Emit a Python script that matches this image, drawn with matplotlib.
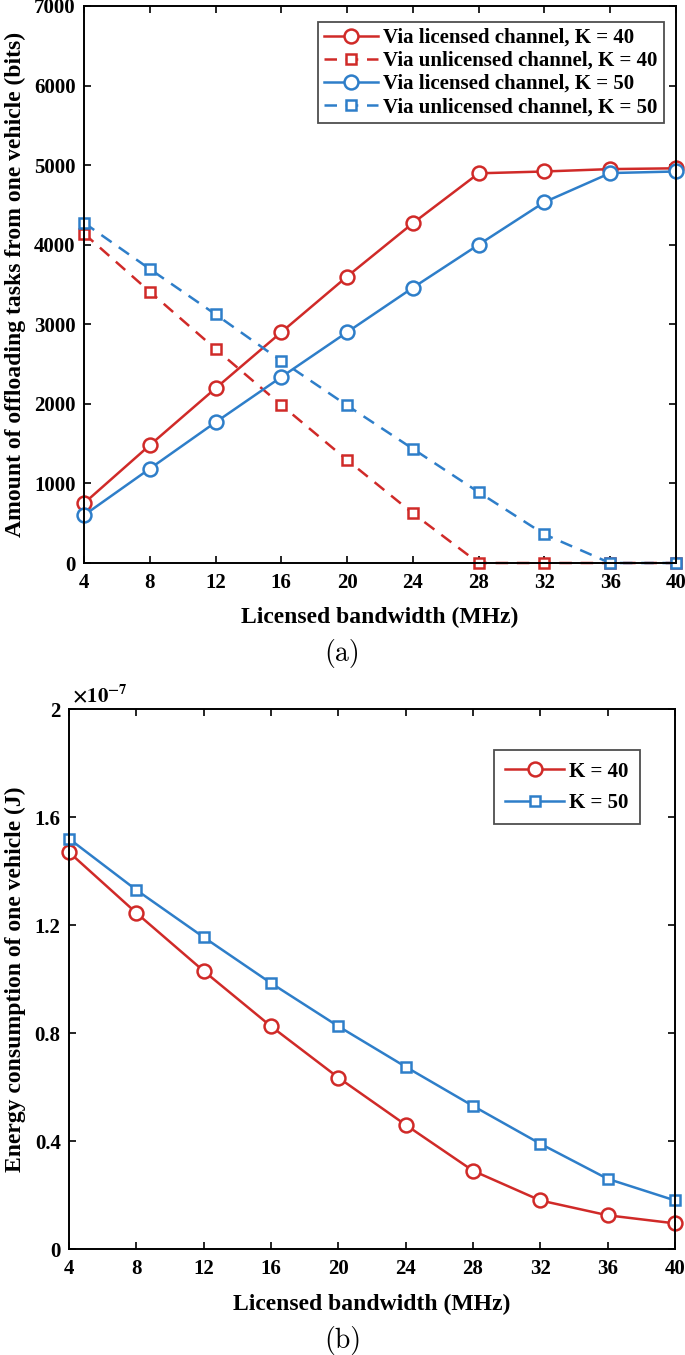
import numpy as np
import matplotlib.pyplot as plt
from matplotlib.ticker import FuncFormatter

plt.rcParams['font.family'] = ['Liberation Serif', 'DejaVu Serif']
plt.rcParams['font.weight'] = 'bold'
plt.rcParams['mathtext.fontset'] = 'stix'

bandwidth = [4, 8, 12, 16, 20, 24, 28, 32, 36, 40]

# (a) offloaded bits
lic_k40 = [750, 1480, 2195, 2900, 3600, 4270, 4897, 4920, 4950, 4960]
unlic_k40 = [4140, 3410, 2690, 1985, 1295, 625, 0, 0, 0, 0]
lic_k50 = [600, 1185, 1768, 2337, 2900, 3459, 4000, 4535, 4900, 4920]
unlic_k50 = [4275, 3695, 3125, 2540, 1980, 1435, 890, 360, 0, 0]

# (b) energy, in units of 1e-7 J
energy_k40 = [1.47, 1.245, 1.03, 0.825, 0.635, 0.46, 0.29, 0.18, 0.125, 0.095]
energy_k50 = [1.52, 1.33, 1.155, 0.985, 0.825, 0.675, 0.53, 0.39, 0.26, 0.18]

red = '#d02a28'
blue = '#2e7ec9'
lw = 1.8
mk = dict(markerfacecolor='white', markeredgewidth=1.8)

fig = plt.figure(figsize=(6.85, 13.55), dpi=100)

def style(ax):
    ax.tick_params(direction='in', top=True, right=True, length=5, width=1.2,
                   labelsize=15)
    ax.tick_params(axis='x', pad=7)
    ax.tick_params(axis='y', pad=6)
    for s in ax.spines.values():
        s.set_linewidth(1.4)
    for lab in ax.get_xticklabels() + ax.get_yticklabels():
        lab.set_fontweight('bold')

# ---- (a)
ax1 = fig.add_axes([0.1226, 0.5845, 0.8642, 0.4111])
ax1.plot(bandwidth, lic_k40, '-o', color=red, lw=lw, ms=10, label='Via licensed channel, K = 40', **mk)
ax1.plot(bandwidth, unlic_k40, '--s', color=red, lw=lw, ms=7.5, dashes=(5, 3.5),
         label='Via unlicensed channel, K = 40', **mk)
ax1.plot(bandwidth, lic_k50, '-o', color=blue, lw=lw, ms=10, label='Via licensed channel, K = 50', **mk)
ax1.plot(bandwidth, unlic_k50, '--s', color=blue, lw=lw, ms=7.5, dashes=(5, 3.5),
         label='Via unlicensed channel, K = 50', **mk)
ax1.set_xlim(4, 40)
ax1.set_ylim(0, 7000)
ax1.set_xticks(bandwidth)
ax1.set_yticks(range(0, 7001, 1000))
style(ax1)
for c in ax1.lines:
    c.set_clip_on(False)
ax1.set_xlabel('Licensed bandwidth (MHz)', fontsize=17, fontweight='bold', labelpad=10)
ax1.set_ylabel('Amount of offloading tasks from one vehicle (bits)', fontsize=17,
               fontweight='bold', labelpad=6)
leg = ax1.legend(loc='upper right', bbox_to_anchor=(0.98, 0.972), fontsize=15,
                 frameon=True, fancybox=False, edgecolor='#222222', handlelength=2.6,
                 borderpad=0.3, labelspacing=0.15, handletextpad=0.25, borderaxespad=0)
leg.get_frame().set_linewidth(1.3)
fig.text(0.5, 0.518, '(a)', family='cmr10', fontweight='normal', fontsize=20, ha='center', va='center')

# ---- (b)
ax2 = fig.add_axes([0.1007, 0.0782, 0.8847, 0.3985])
e40 = np.array(energy_k40) * 1e-7
e50 = np.array(energy_k50) * 1e-7
ax2.plot(bandwidth, e40, '-o', color=red, lw=lw, ms=10, label='K = 40', **mk)
ax2.plot(bandwidth, e50, '-s', color=blue, lw=lw, ms=7.5, label='K = 50', **mk)
ax2.set_xlim(4, 40)
ax2.set_ylim(0, 2e-7)
ax2.set_xticks(bandwidth)
ax2.set_yticks(np.arange(0, 2.01, 0.4) * 1e-7)
ax2.yaxis.set_major_formatter(FuncFormatter(lambda v, p: '%g' % round(v / 1e-7, 2)))
style(ax2)
for c in ax2.lines:
    c.set_clip_on(False)
ax2.set_xlabel('Licensed bandwidth (MHz)', fontsize=17, fontweight='bold', labelpad=11)
ax2.set_ylabel('Energy consumption of one vehicle (J)', fontsize=17, fontweight='bold', labelpad=6)
ax2.text(0.005, 1.004, r'$\times10^{-7}$', transform=ax2.transAxes, fontsize=15,
         fontweight='normal', ha='left', va='bottom')
leg2 = ax2.legend(loc='upper right', bbox_to_anchor=(0.942, 0.924), fontsize=15,
                  frameon=True, fancybox=False, edgecolor='#222222', handlelength=2.8,
                  borderpad=0.55, labelspacing=0.55, handletextpad=0.25, borderaxespad=0)
leg2.get_frame().set_linewidth(1.3)
fig.text(0.5, 0.011, '(b)', family='cmr10', fontweight='normal', fontsize=20, ha='center', va='center')

fig.savefig('out.png', dpi=100)
